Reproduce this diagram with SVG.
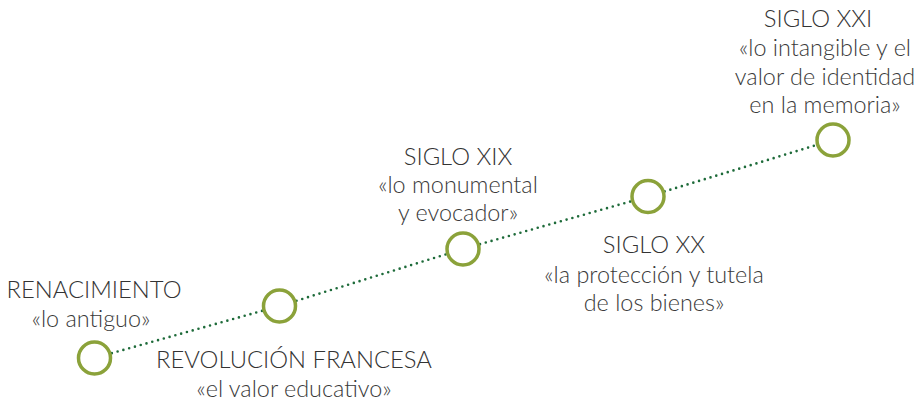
<svg xmlns="http://www.w3.org/2000/svg" width="923" height="402" viewBox="0 0 923 402">
<style>
.t{font-family:"Lato","Liberation Sans",sans-serif;font-weight:300;fill:#333333;text-anchor:middle;font-size:23.8px}
.s{font-family:"Lato","Liberation Sans",sans-serif;font-weight:300;fill:#3a3a3a;text-anchor:middle;font-size:23.4px}
.c{fill:#ffffff;stroke:#8ba23a;stroke-width:3.5}
.l{fill:none;stroke:#1e6b3a;stroke-width:2.6;stroke-linecap:round;stroke-dasharray:0 6}
</style>
<rect width="923" height="402" fill="#ffffff"/>
<g id="connectors">
<polyline class="l" points="94.5,358 279.5,306 463,249 648,196.5 833,140"/>
</g>
<g id="renacimiento">
<circle class="c" cx="94.5" cy="358" r="16"/>
<text class="t" x="94" y="298">RENACIMIENTO</text>
<text class="s" x="91" y="327">«lo antiguo»</text>
</g>
<g id="revolucion">
<circle class="c" cx="279.5" cy="306" r="16"/>
<text class="t" x="294" y="368">REVOLUCIÓN FRANCESA</text>
<text class="s" x="294" y="397">«el valor educativo»</text>
</g>
<g id="siglo-xix">
<circle class="c" cx="463" cy="249" r="16"/>
<text class="t" x="458" y="165">SIGLO XIX</text>
<text class="s" x="458" y="193">«lo monumental</text>
<text class="s" x="458" y="221">y evocador»</text>
</g>
<g id="siglo-xx">
<circle class="c" cx="648" cy="196.5" r="16"/>
<text class="t" x="654" y="253">SIGLO XX</text>
<text class="s" x="654" y="283">«la protección y tutela</text>
<text class="s" x="654" y="311">de los bienes»</text>
</g>
<g id="siglo-xxi">
<circle class="c" cx="833" cy="140" r="16"/>
<text class="t" x="818" y="27">SIGLO XXI</text>
<text class="s" x="825" y="56">«lo intangible y el</text>
<text class="s" x="825" y="85">valor de identidad</text>
<text class="s" x="825" y="113">en la memoria»</text>
</g>
</svg>
